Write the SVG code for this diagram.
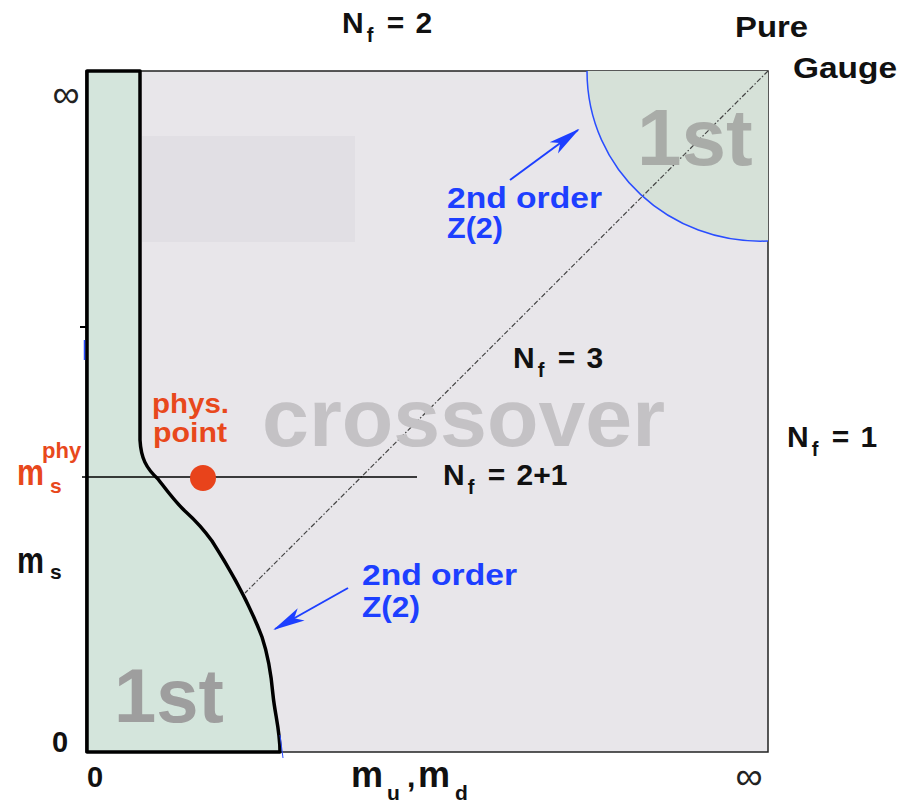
<svg xmlns="http://www.w3.org/2000/svg" width="903" height="808" viewBox="0 0 903 808">
<style>
text{font-family:"Liberation Sans",Arial,sans-serif;}
.lbl{font-size:29px;font-weight:bold;fill:#111;}
.nf{font-size:30px;font-weight:bold;fill:#111;word-spacing:3px;}
.sub{font-size:20px;}
.blue{font-size:30px;font-weight:bold;fill:#1d3fff;}
.red{font-weight:bold;fill:#e8481c;}
.inf{font-size:38px;fill:#222;text-anchor:middle;}
.big{font-weight:bold;}
</style>
<defs>
<marker id="ah" markerUnits="userSpaceOnUse" markerWidth="32" markerHeight="16" viewBox="0 0 32 16" refX="30" refY="8" orient="auto">
<path d="M0,1 L32,8 L0,15 L8,8 z" fill="#1d3fff"/>
</marker>
</defs>
<rect width="903" height="808" fill="#fff"/>
<g id="plot">
<rect x="86" y="71" width="682" height="681" fill="#e8e6ea" stroke="#222" stroke-width="1.5"/>
<rect x="142" y="136" width="213" height="106" fill="#e1dfe4"/>
<path id="pure-gauge-region" d="M587,71 C587,170 670,245 768,241 L768,71 Z" fill="#d6e1d8"/>
<path d="M587,71 C587,170 670,245 768,241" fill="none" stroke="#2a4dff" stroke-width="1.5"/>
<path id="chiral-region" d="M87,71 H140 V440 C141,458 146,468 158,479 C168,492 176,503 186,512 C196,521 204,530 212,541 C228,566 248,600 262,637 C268,655 271,672 273,695 C275,715 280,730 280,752 H87 Z" fill="#d4e5dc" stroke="#000" stroke-width="3.5" stroke-linejoin="round"/>
<line x1="280" y1="735" x2="283" y2="758" stroke="#2a4dff" stroke-width="1"/>
<line x1="84.5" y1="340" x2="84.5" y2="360" stroke="#2a4dff" stroke-width="1.5"/>
<line x1="80" y1="327" x2="87" y2="327" stroke="#000" stroke-width="2"/>
<line x1="768" y1="71" x2="245" y2="593" stroke="#444" stroke-width="1.2" stroke-dasharray="5 2 1.5 2"/>
<line x1="82" y1="477" x2="417" y2="477" stroke="#000" stroke-width="1.5"/>
<circle id="phys-point" cx="203" cy="478" r="13" fill="#e8431b"/>
</g>
<g id="region-labels">
<text class="big" x="637" y="165" font-size="80" fill="#a9aca8">1st</text>
<text class="big" x="114" y="722" font-size="76" fill="#9e9e9e">1st</text>
<text class="big" x="262" y="446" font-size="82" fill="#c4c2c5" textLength="403" lengthAdjust="spacingAndGlyphs">crossover</text>
</g>
<g id="connectors">
<line x1="510" y1="180" x2="578" y2="130" stroke="#1d3fff" stroke-width="2" marker-end="url(#ah)"/>
<line x1="348" y1="588" x2="275" y2="629" stroke="#1d3fff" stroke-width="2" marker-end="url(#ah)"/>
</g>
<g id="labels">
<text class="nf" x="342" y="33">N<tspan class="sub" dx="3" dy="9">f</tspan><tspan dx="2" dy="-9"> = 2</tspan></text>
<text class="nf" x="513" y="368">N<tspan class="sub" dx="3" dy="9">f</tspan><tspan dx="2" dy="-9"> = 3</tspan></text>
<text class="nf" x="443" y="485">N<tspan class="sub" dx="3" dy="9">f</tspan><tspan dx="2" dy="-9"> = 2+1</tspan></text>
<text class="nf" x="787" y="447">N<tspan class="sub" dx="3" dy="9">f</tspan><tspan dx="2" dy="-9"> = 1</tspan></text>
<text class="lbl" x="735" y="37" font-size="33" textLength="73" lengthAdjust="spacingAndGlyphs">Pure</text>
<text class="lbl" x="793" y="78" font-size="33" textLength="104" lengthAdjust="spacingAndGlyphs">Gauge</text>
<text class="blue" x="447" y="208" textLength="155" lengthAdjust="spacingAndGlyphs">2nd order</text>
<text class="blue" x="447" y="238" textLength="56" lengthAdjust="spacingAndGlyphs">Z(2)</text>
<text class="blue" x="362" y="585" textLength="155" lengthAdjust="spacingAndGlyphs">2nd order</text>
<text class="blue" x="362" y="617" textLength="58" lengthAdjust="spacingAndGlyphs">Z(2)</text>
<text class="red" x="152" y="413" font-size="27" textLength="77" lengthAdjust="spacingAndGlyphs">phys.</text>
<text class="red" x="153" y="442" font-size="27" textLength="74" lengthAdjust="spacingAndGlyphs">point</text>
<text class="red"><tspan x="17" y="485" font-size="36" textLength="27" lengthAdjust="spacingAndGlyphs">m</tspan><tspan x="42" y="458" font-size="22">phy</tspan><tspan x="50" y="493" font-size="21">s</tspan></text>
<text class="lbl"><tspan x="17" y="573" font-size="36" textLength="27" lengthAdjust="spacingAndGlyphs">m</tspan><tspan x="50" y="579" font-size="21">s</tspan></text>
<text class="lbl"><tspan x="351" y="787" font-size="36">m</tspan><tspan x="387" y="800" font-size="21">u</tspan><tspan x="407" y="787" font-size="30">,</tspan><tspan x="418" y="787" font-size="36">m</tspan><tspan x="455" y="800" font-size="21">d</tspan></text>
<text class="lbl" x="52" y="752" font-size="28">0</text>
<text class="lbl" x="87" y="787" font-size="28">0</text>
<text class="inf" x="66" y="107">∞</text>
<text class="inf" x="749" y="789">∞</text>
</g>
</svg>
